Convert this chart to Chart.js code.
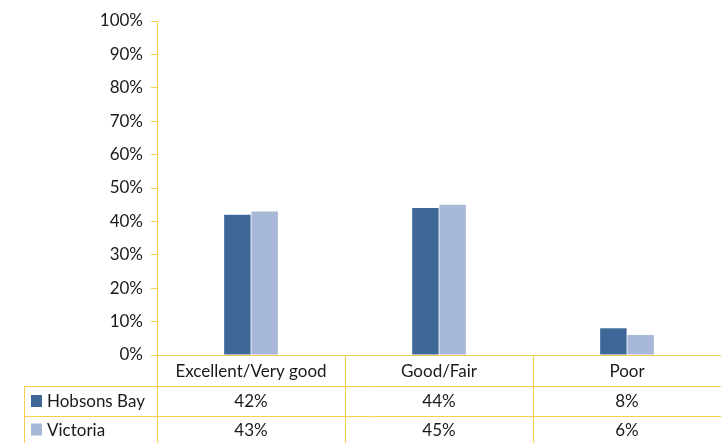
<!DOCTYPE html>
<html><head><meta charset="utf-8">
<script src="https://cdn.jsdelivr.net/npm/chart.js@4"></script>
<style>html,body{margin:0;padding:0;background:#fff}#w{width:721px;height:443px}</style>
</head><body><div id="w"><canvas id="c"></canvas></div>
<script>
const categories = ["Excellent/Very good", "Good/Fair", "Poor"];
const hobsonsBay = [42, 44, 8];
const victoria = [43, 45, 6];
const seriesNames = ["Hobsons Bay", "Victoria"];
const colors = ["#3F6899", "#A8B8D8"];
const gold = "#F7CF4F";
const FONT = "Lato, 'Open Sans', sans-serif";

const tablePlugin = {
  id: 'table',
  afterDraw(chart) {
    const ctx = chart.ctx, x = chart.scales.x, a = chart.chartArea;
    const rows = [a.bottom, 386, 416, 443];
    ctx.save();
    ctx.strokeStyle = gold; ctx.lineWidth = 1;
    ctx.beginPath();
    ctx.moveTo(24, rows[1] + 0.5); ctx.lineTo(721, rows[1] + 0.5);
    ctx.moveTo(24, rows[2] + 0.5); ctx.lineTo(721, rows[2] + 0.5);
    const w = (a.right - a.left) / categories.length;
    for (let i = 0; i <= categories.length; i++) {
      const vx = Math.round(a.left + i * w) + 0.5;
      ctx.moveTo(vx, a.bottom); ctx.lineTo(vx, 443);
    }
    ctx.moveTo(24.5, rows[1]); ctx.lineTo(24.5, 443);
    ctx.stroke();
    ctx.fillStyle = "#1a1a1a"; ctx.font = "17px " + FONT;
    ctx.textAlign = "center"; ctx.textBaseline = "middle";
    const data = [hobsonsBay, victoria];
    categories.forEach((c, i) => {
      const cx = x.getPixelForValue(i);
      ctx.fillText(c, cx, (rows[0] + rows[1]) / 2 + 1);
      data.forEach((d, j) => ctx.fillText(d[i] + "%", cx, (rows[j + 1] + rows[j + 2]) / 2 + 1));
    });
    ctx.textAlign = "left";
    seriesNames.forEach((n, j) => {
      const cy = (rows[j + 1] + rows[j + 2]) / 2;
      ctx.fillStyle = colors[j]; ctx.fillRect(31, cy - 6, 11, 12);
      ctx.fillStyle = "#1a1a1a"; ctx.fillText(n, 47, cy + 1);
    });
    ctx.restore();
  }
};

new Chart(document.getElementById('c'), {
  type: 'bar',
  data: {
    labels: categories,
    datasets: [
      { label: seriesNames[0], data: hobsonsBay, backgroundColor: colors[0] },
      { label: seriesNames[1], data: victoria, backgroundColor: colors[1] }
    ]
  },
  options: {
    responsive: true, maintainAspectRatio: false, animation: false,
    layout: { padding: { top: 21, bottom: 88, right: -7, left: 0 } },
    plugins: { legend: { display: false }, tooltip: { enabled: false } },
    datasets: { bar: { categoryPercentage: 0.29, barPercentage: 0.97 } },
    scales: {
      x: {
        ticks: { display: false },
        grid: { display: false, drawTicks: false },
        border: { color: gold, width: 1 }
      },
      y: {
        min: 0, max: 100,
        afterFit(s) { s.width = 157; },
        ticks: { stepSize: 10, callback: v => v + "%", color: "#1a1a1a", font: { size: 17, family: FONT }, padding: 8 },
        grid: { drawOnChartArea: false, color: gold, tickLength: 6 },
        border: { color: gold, width: 1 }
      }
    }
  },
  plugins: [tablePlugin]
});
</script></body></html>
